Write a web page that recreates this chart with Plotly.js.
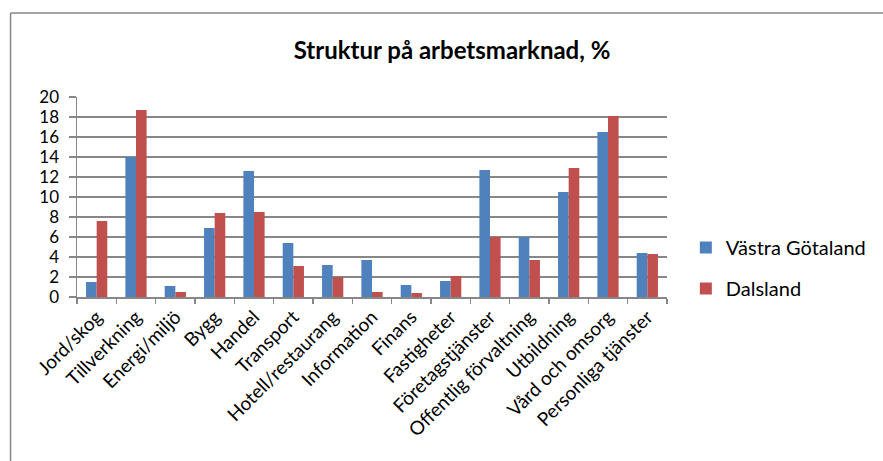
<!DOCTYPE html>
<html>
<head>
<meta charset="utf-8">
<script src="https://cdn.plot.ly/plotly-3.0.1.min.js"></script>
<style>
html,body{margin:0;padding:0;background:#fff;}
#chart{width:883px;height:461px;}
</style>
</head>
<body>
<div id="chart"></div>
<script>
const categories = ["Jord/skog","Tillverkning","Energi/miljö","Bygg","Handel","Transport","Hotell/restaurang","Information","Finans","Fastigheter","Företagstjänster","Offentlig förvaltning","Utbildning","Vård och omsorg","Personliga tjänster"];
const vastraGotaland = [1.5, 14.0, 1.1, 6.9, 12.6, 5.4, 3.2, 3.7, 1.2, 1.6, 12.7, 6.0, 10.5, 16.5, 4.4];
const dalsland = [7.6, 18.7, 0.5, 8.4, 8.5, 3.1, 2.0, 0.5, 0.4, 2.1, 6.0, 3.7, 12.9, 18.1, 4.3];
const seriesNames = ["Västra Götaland", "Dalsland"];
const yTicks = [0,2,4,6,8,10,12,14,16,18,20];

const FONT = "Lato, 'Open Sans', sans-serif";
const GRID = "#878787";

const traces = [
  {type:"bar", name:seriesNames[0], x:categories, y:vastraGotaland, marker:{color:"#4F81BD"}, legendgroup:"a"},
  {type:"bar", name:seriesNames[1], x:categories, y:dalsland, marker:{color:"#C0504D"}, legendgroup:"b"}
];

const L=77, R=672, T=97, B=297, W=883, H=461;
const px = v => (v - L)/(R - L);
const py = v => (B - v)/(B - T);

const layout = {
  width:W, height:H,
  margin:{l:L, r:W-R, t:T, b:H-B, pad:0},
  paper_bgcolor:"#fff", plot_bgcolor:"#fff",
  font:{family:FONT, color:"#000", size:18},
  title:{text:"<b>Struktur på arbetsmarknad, %</b>", font:{family:FONT, size:24, color:"#000"},
         x:452/W, xanchor:"center", y:1-51/H, yanchor:"middle", xref:"container", yref:"container"},
  barmode:"group", bargap:0.46, bargroupgap:0,
  xaxis:{type:"category", showline:true, linecolor:GRID, linewidth:1.5, ticks:"outside", tickson:"boundaries",
         ticklen:5, tickcolor:GRID, tickwidth:1.5, tickangle:-45, tickfont:{size:19}, showgrid:false, zeroline:false,
         automargin:false},
  yaxis:{range:[0,20], tickvals:yTicks, showgrid:true, gridcolor:GRID, gridwidth:1.5, showline:true, linecolor:GRID,
         linewidth:1.5, ticks:"outside", ticklen:7, tickcolor:GRID, tickwidth:1.5, tickfont:{size:17}, zeroline:false,
         ticklabelstandoff:6, automargin:false},
  showlegend:true,
  legend:{x:px(691), xanchor:"left", y:py(268), yanchor:"middle", font:{size:20}, tracegroupgap:12,
          bgcolor:"rgba(0,0,0,0)", itemwidth:30},
  shapes:[
    {type:"line", xref:"paper", yref:"paper", x0:px(10), x1:px(10), y0:py(13), y1:py(470), line:{color:"#878787", width:1.5}},
    {type:"line", xref:"paper", yref:"paper", x0:px(10), x1:px(900), y0:py(13), y1:py(13), line:{color:"#878787", width:1.5}}
  ]
};

Plotly.newPlot("chart", traces, layout, {displayModeBar:false, staticPlot:true});
</script>
</body>
</html>
